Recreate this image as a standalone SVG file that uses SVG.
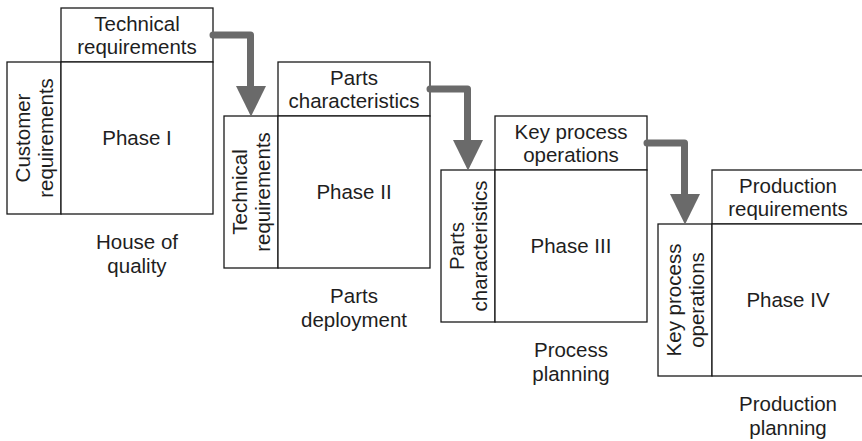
<svg xmlns="http://www.w3.org/2000/svg" width="862" height="441" viewBox="0 0 862 441">
  <style>
    .box { fill: #ffffff; stroke: #1a1a1a; stroke-width: 1.3; }
    .lbl { font-family: "Liberation Sans", Arial, sans-serif; font-size: 20.5px; fill: #1e1e1e; text-anchor: middle; }
    .flow { fill: none; stroke: #6a6a6a; stroke-width: 7; stroke-linecap: round; stroke-linejoin: round; }
    .head { fill: #6a6a6a; }
  </style>
  <rect width="862" height="441" fill="#ffffff"/>

  <!-- Phase I: House of quality -->
  <g id="phase1">
    <rect class="box" x="61" y="8" width="152" height="54"/>
    <rect class="box" x="7" y="62" width="54" height="152"/>
    <rect class="box" x="61" y="62" width="152" height="152"/>
    <text class="lbl" x="137" y="30.6">Technical</text>
    <text class="lbl" x="137" y="54.1">requirements</text>
    <g transform="translate(34,138) rotate(-90)">
      <text class="lbl" x="0" y="-4.4">Customer</text>
      <text class="lbl" x="0" y="19.1">requirements</text>
    </g>
    <text class="lbl" x="137" y="145">Phase I</text>
    <text class="lbl" x="137" y="249">House of</text>
    <text class="lbl" x="137" y="272.5">quality</text>
  </g>

  <!-- Phase II: Parts deployment -->
  <g id="phase2" transform="translate(217,54)">
    <rect class="box" x="61" y="8" width="152" height="54"/>
    <rect class="box" x="7" y="62" width="54" height="152"/>
    <rect class="box" x="61" y="62" width="152" height="152"/>
    <text class="lbl" x="137" y="30.6">Parts</text>
    <text class="lbl" x="137" y="54.1">characteristics</text>
    <g transform="translate(34,138) rotate(-90)">
      <text class="lbl" x="0" y="-4.4">Technical</text>
      <text class="lbl" x="0" y="19.1">requirements</text>
    </g>
    <text class="lbl" x="137" y="145">Phase II</text>
    <text class="lbl" x="137" y="249">Parts</text>
    <text class="lbl" x="137" y="272.5">deployment</text>
  </g>

  <!-- Phase III: Process planning -->
  <g id="phase3" transform="translate(434,108)">
    <rect class="box" x="61" y="8" width="152" height="54"/>
    <rect class="box" x="7" y="62" width="54" height="152"/>
    <rect class="box" x="61" y="62" width="152" height="152"/>
    <text class="lbl" x="137" y="30.6">Key process</text>
    <text class="lbl" x="137" y="54.1">operations</text>
    <g transform="translate(34,138) rotate(-90)">
      <text class="lbl" x="0" y="-4.4">Parts</text>
      <text class="lbl" x="0" y="19.1">characteristics</text>
    </g>
    <text class="lbl" x="137" y="145">Phase III</text>
    <text class="lbl" x="137" y="249">Process</text>
    <text class="lbl" x="137" y="272.5">planning</text>
  </g>

  <!-- Phase IV: Production planning -->
  <g id="phase4" transform="translate(651,162)">
    <rect class="box" x="61" y="8" width="152" height="54"/>
    <rect class="box" x="7" y="62" width="54" height="152"/>
    <rect class="box" x="61" y="62" width="152" height="152"/>
    <text class="lbl" x="137" y="30.6">Production</text>
    <text class="lbl" x="137" y="54.1">requirements</text>
    <g transform="translate(34,138) rotate(-90)">
      <text class="lbl" x="0" y="-4.4">Key process</text>
      <text class="lbl" x="0" y="19.1">operations</text>
    </g>
    <text class="lbl" x="137" y="145">Phase IV</text>
    <text class="lbl" x="137" y="249">Production</text>
    <text class="lbl" x="137" y="272.5">planning</text>
  </g>

  <!-- Outputs of each phase feed the next phase -->
  <g id="connectors">
    <path class="flow" d="M213 35 H250.5 V90"/>
    <polygon class="head" points="236,86 266,86 251,116.5"/>
    <path class="flow" d="M430 89 H467.5 V144"/>
    <polygon class="head" points="453,140 483,140 468,170.5"/>
    <path class="flow" d="M647 143 H684.5 V198"/>
    <polygon class="head" points="670,194 700,194 685,224.5"/>
  </g>
</svg>
